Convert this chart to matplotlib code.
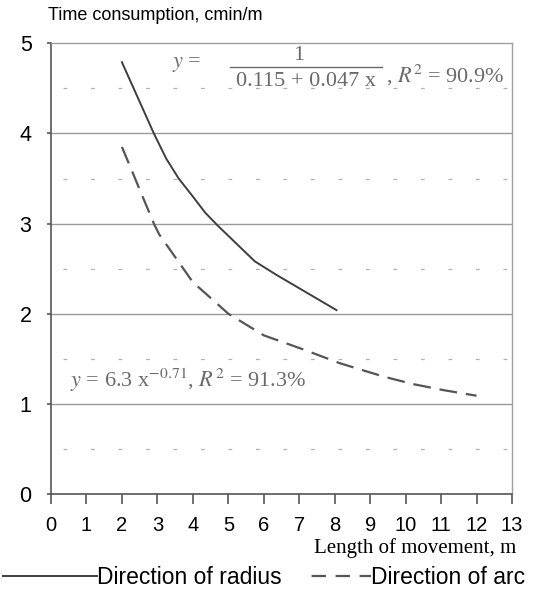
import matplotlib
matplotlib.use("Agg")
import matplotlib.pyplot as plt
from matplotlib.lines import Line2D

plt.rcParams["mathtext.fontset"] = "stix"

# values
radius_x = [2.0, 2.9, 3.25, 3.6, 4.0, 4.35, 4.72, 5.75, 6.36, 8.05]
radius_y = [4.79, 4.0, 3.72, 3.5, 3.3, 3.12, 2.97, 2.58, 2.43, 2.04]
arc_x = [2.0, 2.9, 3.05, 4.0, 5.0, 6.0, 7.07, 8.15, 9.4, 10.2, 11.1, 12.0]
arc_y = [3.85, 3.0, 2.88, 2.35, 2.0, 1.76, 1.61, 1.45, 1.30, 1.22, 1.15, 1.09]
x_ticks = list(range(0, 14))
y_ticks = [0, 1, 2, 3, 4, 5]
y_minor = [0.5, 1.5, 2.5, 3.5, 4.5]

sans = ["Liberation Sans", "DejaVu Sans"]
serif = ["Liberation Serif", "DejaVu Serif"]

fig = plt.figure(figsize=(5.48, 6.03), dpi=100)
ax = fig.add_axes([0.0931, 0.1808, 0.8412, 0.7474])

for y in y_ticks[1:-1]:
    ax.axhline(y, color="#9a9a9a", lw=1.0, zorder=1)
for y in y_minor:
    ax.axhline(y, xmin=0.025, color="#b0b0b0", lw=0.9, ls=(0, (3, 19)), zorder=1)

l1, = ax.plot(radius_x, radius_y, color="#3e3e3e", lw=1.4, label="Direction of radius", zorder=3)
l2, = ax.plot(arc_x, arc_y, color="#555555", lw=1.6, ls=(0, (8, 4)), label="Direction of arc", zorder=3)

ax.set_xlim(0, 13)
ax.set_ylim(0, 5)
ax.set_xticks(x_ticks)
ax.set_yticks(y_ticks)
ax.tick_params(axis="x", direction="out", length=7, width=1.2, color="#555555", pad=9)
ax.tick_params(axis="y", direction="out", length=3, width=1.2, color="#555555", pad=11)
for lab in ax.get_xticklabels():
    lab.set_family(sans)
    lab.set_fontsize(14.5)
for lab in ax.get_yticklabels():
    lab.set_family(sans)
    lab.set_fontsize(15.5)
for s in ["left", "bottom"]:
    ax.spines[s].set_color("#555555")
    ax.spines[s].set_linewidth(1.2)
for s in ["top", "right"]:
    ax.spines[s].set_color("#a0a0a0")
    ax.spines[s].set_linewidth(1.0)

fig.text(48 / 548, 1 - 15 / 603, "Time consumption, cmin/m", family=sans, fontsize=13,
         ha="left", va="center")
fig.text(516 / 548, 1 - 548 / 603, "Length of movement, m", family=serif, fontsize=15,
         ha="right", va="center")

# regression equations
eq = dict(family=serif, color="#6a6a6a", fontsize=16, transform=fig.transFigure)
fig.text(172 / 548, 1 - 65 / 603, "$y$ =", ha="left", va="center", **eq)
fig.text(299 / 548, 1 - 56 / 603, "1", ha="center", va="center", **eq)
fig.add_artist(Line2D([230 / 548, 382 / 548], [1 - 67 / 603] * 2, color="#6a6a6a", lw=1.0))
fig.text(306 / 548, 1 - 81 / 603, "0.115 + 0.047 x", ha="center", va="center", **eq)
fig.text(386 / 548, 1 - 75 / 603, r", $R^2$ = 90.9%", ha="left", va="center", **eq)
fig.text(70 / 548, 1 - 380 / 603, r"$y$ = 6.3 x$^{-0.71}$, $R^2$ = 91.3%", ha="left", va="center", **eq)

# legend below the axis title
leg_font = {"family": sans, "size": 16.5}
fig.legend(handles=[l1], loc="center left", bbox_to_anchor=(0.005, 1 - 578 / 603),
           frameon=False, handlelength=4.1, handletextpad=0.0, borderaxespad=0.0,
           borderpad=0.0, prop=leg_font)
arc_handle = Line2D([], [], color="#555555", lw=1.6, ls=(6.5, (6.5, 4.3)), label="Direction of arc")
fig.legend(handles=[arc_handle], loc="center left", bbox_to_anchor=(302 / 548, 1 - 578 / 603),
           frameon=False, handlelength=3.0, handletextpad=0.0, borderaxespad=0.0,
           borderpad=0.0, prop=leg_font)

fig.savefig("out.png", dpi=100)
